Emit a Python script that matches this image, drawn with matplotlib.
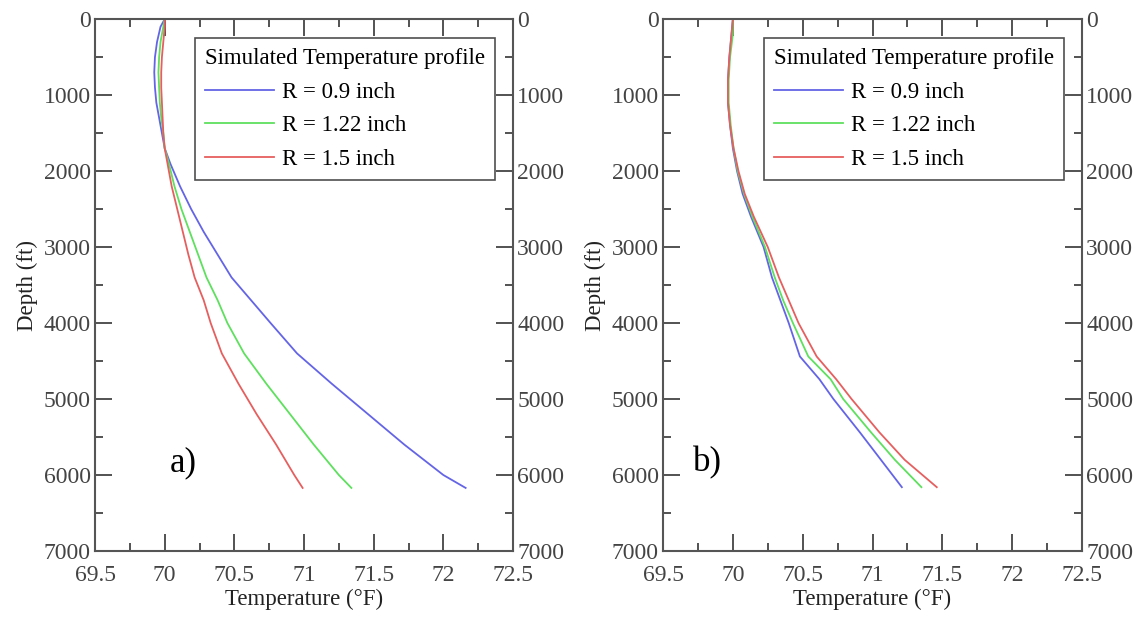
import numpy as np
import matplotlib.pyplot as plt
from matplotlib.ticker import MultipleLocator

plt.rcParams['font.family'] = ['Liberation Serif', 'DejaVu Serif']

# panel a) depth (ft) and temperature (F) readings
depth_a = [0, 100, 300, 500, 700, 900, 1100, 1300, 1500, 1700, 1900, 2200,
           2500, 2800, 3100, 3400, 3700, 4000, 4400, 4800, 5200, 5600, 6000, 6170]
temp_a_09 = [70.0, 69.97, 69.945, 69.93, 69.925, 69.93, 69.94, 69.96, 69.98, 70.0,
             70.04, 70.11, 70.19, 70.28, 70.38, 70.48, 70.62, 70.76, 70.95, 71.20,
             71.46, 71.72, 72.0, 72.16]
temp_a_122 = [70.0, 69.99, 69.97, 69.96, 69.955, 69.96, 69.965, 69.975, 69.99, 70.0,
              70.03, 70.07, 70.12, 70.18, 70.24, 70.30, 70.38, 70.45, 70.57, 70.73,
              70.90, 71.07, 71.25, 71.34]
temp_a_15 = [70.0, 70.0, 69.99, 69.98, 69.975, 69.975, 69.98, 69.985, 69.99, 70.0,
             70.02, 70.05, 70.09, 70.13, 70.17, 70.215, 70.28, 70.33, 70.41, 70.53,
             70.66, 70.80, 70.93, 70.99]

# panel b)
depth_b = [0, 200, 500, 800, 1100, 1400, 1700, 2000, 2300, 2600, 3000, 3400,
           3700, 4000, 4440, 4740, 5000, 5440, 5800, 6160]
temp_b_09 = [70.0, 69.99, 69.975, 69.965, 69.965, 69.98, 70.0, 70.03, 70.07, 70.13,
             70.22, 70.28, 70.34, 70.40, 70.48, 70.62, 70.72, 70.91, 71.06, 71.21]
temp_b_122 = [70.0, 70.0, 69.98, 69.97, 69.97, 69.985, 70.005, 70.035, 70.08, 70.14,
              70.23, 70.30, 70.36, 70.43, 70.54, 70.70, 70.79, 70.99, 71.16, 71.35]
temp_b_15 = [70.0, 69.99, 69.975, 69.965, 69.965, 69.98, 70.005, 70.04, 70.085, 70.15,
             70.25, 70.33, 70.40, 70.47, 70.60, 70.74, 70.85, 71.05, 71.23, 71.46]

labels = ['R = 0.9 inch', 'R = 1.22 inch', 'R = 1.5 inch']
colors = ['#6464e6', '#5ee05e', '#e65f5f']
xticks = [69.5, 70, 70.5, 71, 71.5, 72, 72.5]
xtick_labels = ['69.5', '70', '70.5', '71', '71.5', '72', '72.5']

fig = plt.figure(figsize=(11.41, 6.17), dpi=100)
ax_a = fig.add_axes([0.0833, 0.107, 0.3663, 0.862])
ax_b = fig.add_axes([0.5811, 0.107, 0.3672, 0.862])

panels = [
    (ax_a, depth_a, [temp_a_09, temp_a_122, temp_a_15], 'a)', 70.13),
    (ax_b, depth_b, [temp_b_09, temp_b_122, temp_b_15], 'b)', 69.82),
]

for ax, depth, temps, tag, tag_x in panels:
    for t, lab, c in zip(temps, labels, colors):
        ax.plot(t, depth, color=c, lw=1.3, label=lab)
    ax.set_xlim(69.5, 72.5)
    ax.set_ylim(7000, 0)
    ax.set_xticks(xticks)
    ax.set_xticklabels(xtick_labels)
    ax.xaxis.set_minor_locator(MultipleLocator(0.25))
    ax.yaxis.set_major_locator(MultipleLocator(1000))
    ax.yaxis.set_minor_locator(MultipleLocator(500))
    ax.tick_params(which='both', direction='in', top=True, right=True,
                   labelright=True, labelsize=17, colors='#444444', pad=3,
                   width=1.3)
    ax.tick_params(axis='x', pad=10)
    ax.tick_params(which='major', length=12)
    ax.tick_params(which='minor', length=6)
    for s in ax.spines.values():
        s.set_color('#555555')
        s.set_linewidth(1.5)
    ax.set_xlabel('Temperature (°F)', fontsize=16.5, color='#222222', labelpad=2)
    ax.set_ylabel('Depth (ft)', fontsize=16.5, color='#222222', labelpad=4)
    ax.text(tag_x, 5840, tag, fontsize=25, ha='center', va='center')
    leg = ax.legend(title='Simulated Temperature profile', loc='upper right',
                    bbox_to_anchor=(0.958, 0.965), fontsize=16.5,
                    title_fontsize=16.5, frameon=True, fancybox=False,
                    handlelength=3.0, handletextpad=0.35, borderpad=0.45,
                    labelspacing=0.55, borderaxespad=0)
    leg.get_frame().set_edgecolor('#222222')
    leg.get_frame().set_linewidth(1.2)
    leg._legend_box.align = 'left'

fig.savefig('out.png', dpi=100)
